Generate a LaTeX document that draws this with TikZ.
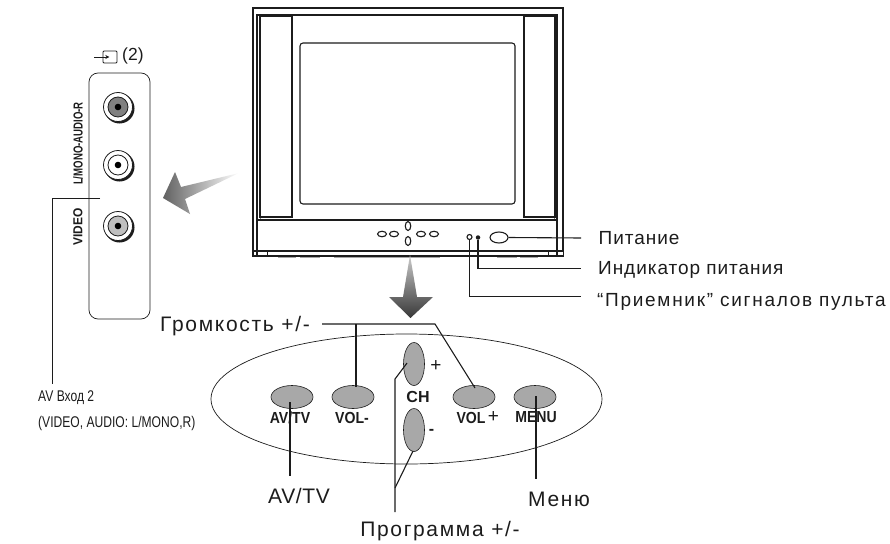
\documentclass[tikz,border=0pt]{standalone}
\usepackage{fontspec}
\usepackage{graphicx}
\setmainfont{Liberation Sans}
\usetikzlibrary{shapes.geometric,calc,arrows.meta}
\definecolor{ink}{gray}{0.11}
\definecolor{btn}{gray}{0.66}
\tikzset{
 x=1pt,y=-1pt,
 line/.style={draw=ink,line width=1.1pt},
 thin line/.style={draw=ink,line width=.8pt},
 leader/.style={draw=ink,line width=1.1pt},
 lab/.style={font=\fontsize{19}{21}\selectfont,text=ink,inner sep=0pt},
 big lab/.style={font=\fontsize{21}{23}\selectfont,text=ink,inner sep=0pt},
 small lab/.style={font=\fontsize{15.5}{17}\selectfont,text=ink,inner sep=0pt,anchor=west},
 bold lab/.style={font=\bfseries\fontsize{16}{17}\selectfont,text=ink,inner sep=0pt},
 side lab/.style={font=\bfseries\fontsize{13}{14}\selectfont,text=ink,inner sep=0pt,rotate=90},
 btnell/.style={ellipse,draw=ink,line width=.6pt,fill=btn,inner sep=0pt,minimum width=42pt,minimum height=23pt},
 chell/.style={ellipse,draw=ink,line width=.6pt,fill=btn,inner sep=0pt,minimum width=21pt,minimum height=43pt},
 tiny h/.style={ellipse,draw=ink,line width=1.1pt,inner sep=0pt,minimum width=9pt,minimum height=5.5pt},
 tiny v/.style={ellipse,draw=ink,line width=1.1pt,inner sep=0pt,minimum width=5.5pt,minimum height=9pt},
}
\newcommand{\narrow}[2]{\scalebox{#1}[1]{#2}}
\begin{document}
\begin{tikzpicture}
\useasboundingbox (0,0) rectangle (890,543);
% TV body
\draw[line] (253,8) rectangle (563,256);
\fill[white] (253.5,252) rectangle (562.5,255.5);
\draw[line width=1.8pt,draw=ink] (257,256) -- (257,15) -- (557,15) -- (557,256);
\draw[thin line,draw=gray] (260,220) -- (260,17);
\draw[thin line,draw=gray] (554,220) -- (554,17);
\draw[line] (260,217) rectangle (292,16);
\draw[line] (524,217) rectangle (555,16);
\node[draw=ink,line width=1.1pt,rounded corners=3pt,minimum width=215pt,minimum height=161pt,inner sep=0pt] (screen) at (407.5,123.5) {};
\draw[line] (257,220) -- (557,220);
\draw[line width=1.6pt,draw=ink] (253,251) -- (563,251);
\draw[line] (253,256) -- (563,256);
\draw[thin line] (267,251) -- (267,256) (548,251) -- (548,256);
\foreach \a/\b in {278/296,300/320,334/440,497/517,520/538}
  \draw[line width=1pt,draw=gray!70] (\a,257.5) -- (\b,257.5);
% TV buttons
\node[tiny h] (t1) at (382,234) {};
\node[tiny h] (t2) at (394,234) {};
\node[tiny h] (t3) at (421,234) {};
\node[tiny h] (t4) at (434,234) {};
\node[tiny v] (t5) at (408,226) {};
\node[tiny v] (t6) at (408,241) {};
\node[circle,draw=ink,line width=1.1pt,inner sep=0pt,minimum size=5pt] (sensor) at (469.5,237) {};
\node[circle,fill=ink,inner sep=0pt,minimum size=4.5pt] (led) at (478,237.5) {};
\node[ellipse,draw=ink,line width=1.1pt,inner sep=0pt,minimum width=18pt,minimum height=11pt] (power) at (499,237.5) {};
% right labels
\node[lab,anchor=west] (lpower) at (598.5,238.5) {\addfontfeature{LetterSpace=5}Питание};
\node[lab,anchor=west] (lled) at (598,270) {\addfontfeature{LetterSpace=5}Индикатор питания};
\node[lab,anchor=west] (lsensor) at (597,302) {\addfontfeature{LetterSpace=9}“Приемник” сигналов пульта};
\coordinate (e1) at (581,238);
\coordinate (e2) at (581,268.5);
\coordinate (e3) at (581,296.5);
\draw[leader] (power.east) -- (e1);
\draw[leader] (led.south) |- (e2);
\draw[leader] (sensor.south) |- (e3);
% down arrow
\shade[top color=black!20,bottom color=black!78,middle color=black!50] (410,255) -- (417,297) -- (433,297) -- (410.5,318) -- (389,297) -- (403,297) -- cycle;
% left arrow
\shade[left color=black!62,right color=white] (163,198) -- (175,172) -- (181,187) -- (239,173) -- (185,199) -- (190,214) -- cycle;
% AV panel
\node[draw=ink,line width=.7pt,rounded corners=9pt,minimum width=61pt,minimum height=246pt,inner sep=0pt] (panel) at (119.5,196) {};
\foreach \n/\yy/\c in {s1/107/black!50,s2/165/white,s3/226/black!25}{
  \fill[ink] (119.5,\yy+1.5) circle (15);
  \node[circle,draw=ink,line width=.8pt,fill=white,inner sep=0pt,minimum size=29pt] (\n) at (118,\yy) {};
  \node[circle,draw=ink,line width=.8pt,fill=\c,inner sep=0pt,minimum size=20pt] at (118,\yy) {};
  \fill[black] (118,\yy) circle (3.3);
}
% input icon
\draw[thin line,rounded corners=1pt] (103,51) rectangle (117,63);
\node[inner sep=0pt] (icon) at (110,57) {};
\coordinate (iconstart) at (94,57);
\draw[thin line,-{Stealth[length=4pt,width=4pt]}] (iconstart) -- (icon);
\node[lab,anchor=west,font=\fontsize{17.5}{19}\selectfont] (two) at (122,56) {(2)};
\node[side lab] (lmono) at (78,143.5) {\narrow{.74}{L/MONO-AUDIO-R}};
\node[side lab] (lvideo) at (78,227) {\narrow{.92}{VIDEO}};
% AV input label
\coordinate (avstart) at (100,198.5);
\coordinate (avend) at (52.5,384);
\draw[leader] (avstart) -| (avend);
\node[small lab] (av1) at (38,398) {\narrow{.78}{AV Вход 2}};
\node[small lab] (av2) at (38,423) {\narrow{.78}{(VIDEO, AUDIO: L/MONO,R)}};
% control panel
\node[ellipse,draw=ink,line width=.7pt,inner sep=0pt,minimum width=391pt,minimum height=130pt] (panelB) at (406.5,399) {};
\node[btnell] (avtv) at (292,397) {};
\node[btnell] (volm) at (353,397) {};
\node[btnell] (volp) at (474,397) {};
\node[btnell] (menu) at (535,397) {};
\node[chell] (chp) at (414,364) {};
\node[chell] (chm) at (414,430) {};
\node[bold lab] (tavtv) at (290,417.5) {\narrow{.88}{AV/TV}};
\node[bold lab] (tvolm) at (352,417.5) {\narrow{.88}{VOL-}};
\node[bold lab] (tch) at (418,397) {CH};
\node[bold lab] (tvolp) at (471,417.5) {\narrow{.88}{VOL}};
\node[lab] (tvolpp) at (493.5,417.5) {+};
\node[bold lab] (tmenu) at (536,417.5) {\narrow{.88}{MENU}};
\node[lab] (plus) at (436,366) {+};
\node[bold lab] (minus) at (431.5,432) {-};
% volume
\node[big lab,anchor=west] (lvol) at (160,326) {\addfontfeature{LetterSpace=8}Громкость +/-};
\coordinate (v0) at (322,324);
\coordinate (v1) at (356,324);
\coordinate (v2) at (435,324);
\coordinate (v3) at (356,387);
\coordinate (v4) at (475,388);
\draw[leader] (v0) -- (v2) -- (v4);
\draw[leader] (v1) -- (v3);
% bottom labels
\node[big lab] (lavtv) at (299,496) {\addfontfeature{LetterSpace=3}AV/TV};
\coordinate (a1) at (290,402);
\coordinate (a2) at (290,476);
\draw[leader] (a1) -- (a2);
\node[big lab] (lmenu) at (559,499) {\addfontfeature{LetterSpace=8}Меню};
\coordinate (m1) at (536,396);
\coordinate (m2) at (536,479);
\draw[leader] (m1) -- (m2);
\node[big lab] (lprog) at (440,531) {\addfontfeature{LetterSpace=8}Программа +/-};
\coordinate (p0) at (395,512);
\coordinate (p1) at (395,379);
\coordinate (p2) at (407,363);
\coordinate (p3) at (395,488);
\coordinate (p4) at (413,451);
\draw[leader] (p0) -- (p1) -- (p2);
\draw[leader] (p3) -- (p4);
\end{tikzpicture}
\end{document}
